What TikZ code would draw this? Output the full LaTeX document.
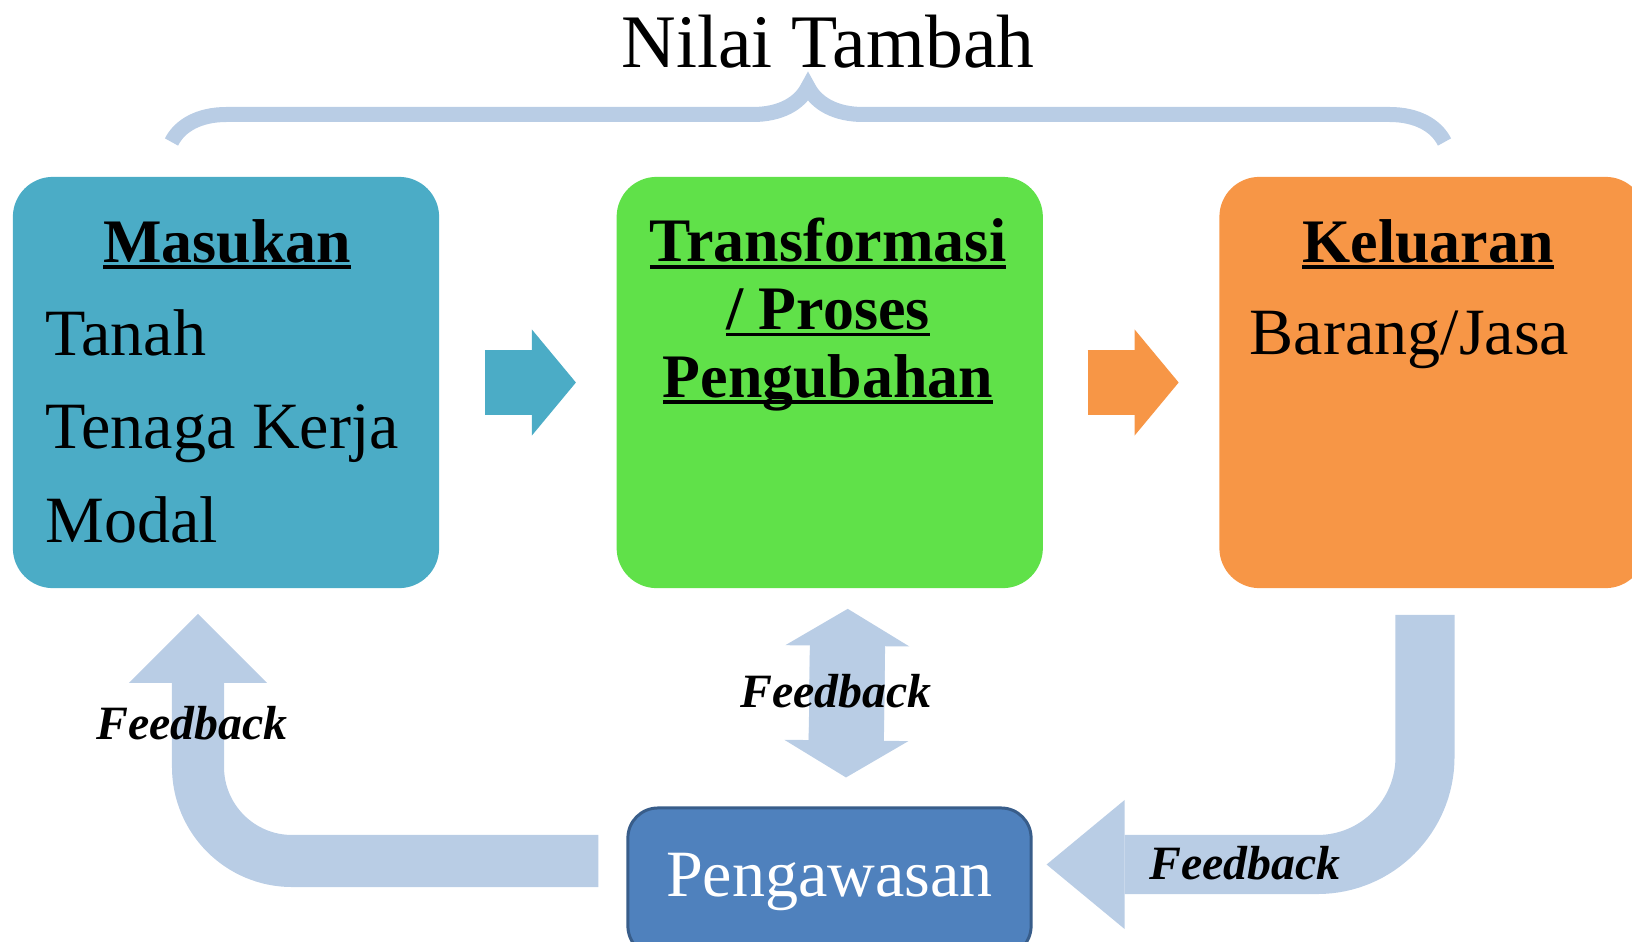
\documentclass[tikz,border=0pt]{standalone}
\usepackage{fontspec}
\setmainfont{Liberation Serif}
\usepackage{tikz}
\usetikzlibrary{arrows.meta,positioning,calc,decorations.pathreplacing}

\definecolor{inputblue}{RGB}{75,172,198}
\definecolor{procgreen}{RGB}{96,225,73}
\definecolor{outorange}{RGB}{247,150,70}
\definecolor{fbblue}{RGB}{185,205,229}
\definecolor{ctrlblue}{RGB}{79,129,189}
\definecolor{ctrlborder}{RGB}{56,93,138}

\newcommand{\ulword}[1]{\setbox0\hbox{#1}\rlap{\rule[-1.9pt]{\wd0}{0.95pt}}\box0}

\begin{document}
\begin{tikzpicture}[
    x=0.01cm, y=-0.01cm,
    node distance=1.76cm,
    stage/.style={rectangle, rounded corners=0.4cm, minimum width=4.26cm, minimum height=4.11cm, inner sep=0pt},
    stagehead/.style={font=\fontsize{17.6}{19.2}\selectfont\bfseries, anchor=base, inner sep=0pt, align=center},
    stageitem/.style={font=\fontsize{18.8}{22}\selectfont, anchor=base west, inner sep=0pt},
    flow/.style={line width=0.64cm, -{Triangle[length=0.44cm, width=1.06cm, line width=0pt]}},
    fblabel/.style={font=\fontsize{13.6}{14}\selectfont\bfseries\itshape, anchor=base, inner sep=0pt}
]
\useasboundingbox (0,0) rectangle (1632,942);

% three stages
\node[stage, fill=inputblue] (masukan) at (226,382.5) {};
\node[stage, fill=procgreen, right=of masukan] (proses) {};
\node[stage, fill=outorange, right=1.75cm of proses] (keluaran) {};

\node[stagehead] (masukanhead) at (227,262) {\ulword{Masukan}};
\node[stageitem] (tanah) at (45,355) {Tanah};
\node[stageitem] (tenaga) at (45,448) {Tenaga Kerja};
\node[stageitem] (modal) at (45,542) {Modal};
% base of a multi-line node = last line
\node[stagehead] (proseshead) at (828,397) {\ulword{Transformasi}\\\ulword{/ Proses}\\\ulword{Pengubahan}};
\node[stagehead] (keluaranhead) at (1428,262) {\ulword{Keluaran}};
\node[stageitem] (barang) at (1249,354) {Barang/Jasa};

% value added brace
\node[font=\fontsize{21.5}{22}\selectfont, anchor=base, inner sep=0pt] (nilai) at (828,67) {Nilai Tambah};
\coordinate (braceL) at (171.5,142);
\coordinate (braceR) at (1444.5,142);
\draw[fbblue, line width=0.15cm, decorate, decoration={brace, amplitude=0.55cm}] (braceL) -- (braceR);

\draw[flow, inputblue] ([xshift=0.45cm]masukan.east) -- ([xshift=-0.40cm]proses.west);
\draw[flow, outorange] ([xshift=0.44cm]proses.east) -- ([xshift=-0.40cm]keluaran.west);

% control
\node[rectangle, rounded corners=0.3cm, fill=ctrlblue, draw=ctrlborder, line width=0.85pt, minimum width=4.03cm, minimum height=1.48cm, text=white, font=\fontsize{18.8}{19}\selectfont] (pengawasan) at (829.5,882) {Pengawasan};

% feedback loops
\coordinate (fbleft) at ($(pengawasan.west)+(-28,-21)$);
\coordinate (fbmasukan) at ($(masukan.south)+(-28,25)$);
\coordinate (fbtop) at ($(proses.south)+(18,20)$);
\coordinate (fbbottom) at ($(pengawasan.north)+(16.5,-29)$);
\coordinate (fbkeluaran) at ($(keluaran.south)+(-7.5,26)$);
\coordinate (fbpengawasan) at ($(pengawasan.east)+(14,-17.5)$);

\draw[fbblue, line width=0.52cm, rounded corners=0.94cm, -{Triangle[length=0.69cm, width=1.38cm, line width=0pt]}] (fbleft) -| (fbmasukan);
\draw[fbblue, line width=0.75cm] ($(fbbottom)+(0,-26)$) -- ($(fbtop)+(0,26)$);
\draw[fbblue, line width=0.75cm, {Triangle[length=0.37cm, width=1.24cm, line width=0pt]}-{Triangle[length=0.37cm, width=1.24cm, line width=0pt]}] (fbbottom) -- (fbtop);
\draw[fbblue, line width=0.59cm, rounded corners=1.075cm, -{Triangle[length=0.78cm, width=1.29cm, line width=0pt]}] (fbkeluaran) |- (fbpengawasan);

\node[fblabel] (fbtextleft) at (192,739) {Feedback};
\node[fblabel] (fbtextmid) at (836,707) {Feedback};
\node[fblabel] (fbtextright) at (1245,879) {Feedback};
\end{tikzpicture}
\end{document}
